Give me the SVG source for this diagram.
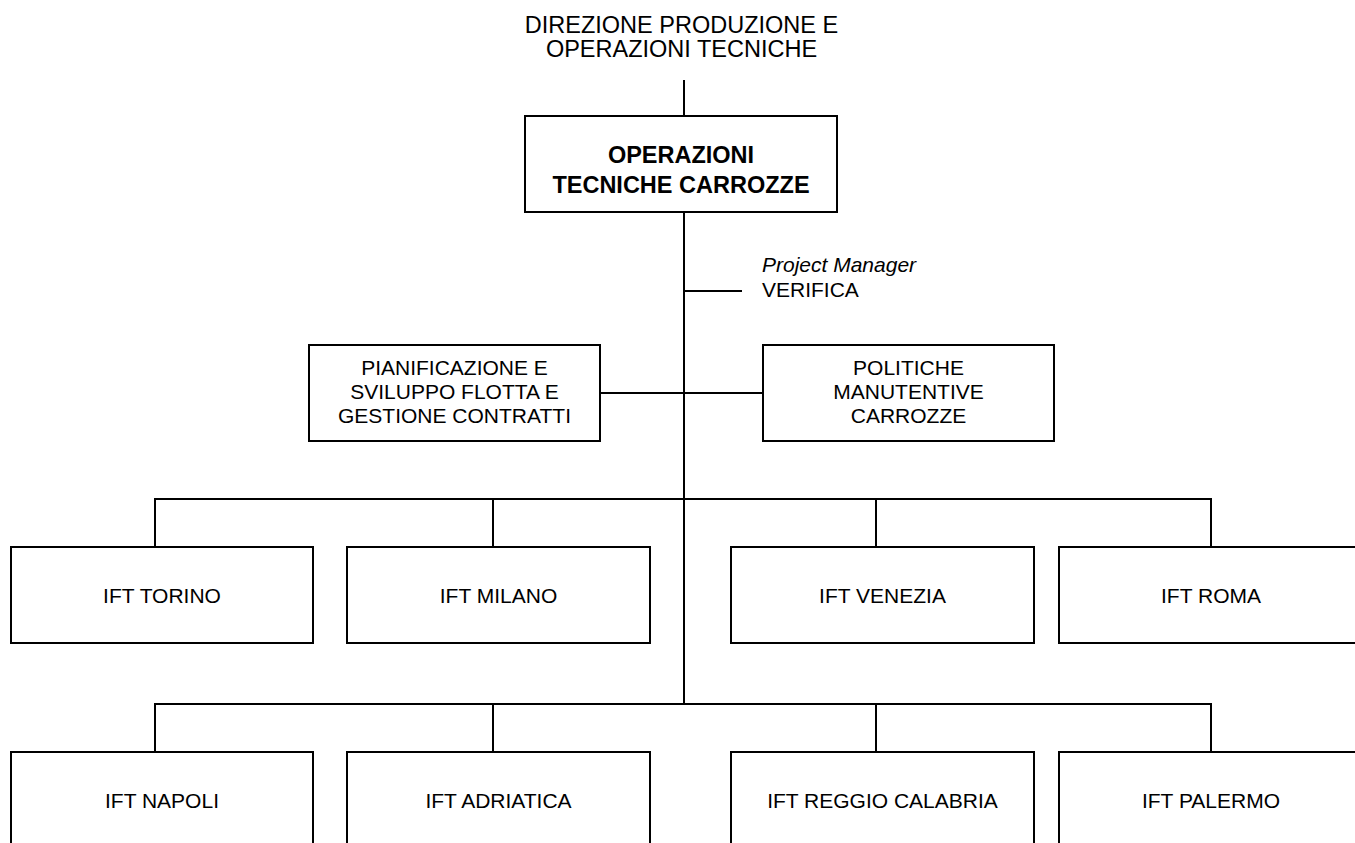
<svg xmlns="http://www.w3.org/2000/svg" width="1355" height="843" viewBox="0 0 1355 843">
<style>
  .box { fill: #ffffff; stroke: #000000; stroke-width: 2; }
  .ln { stroke: #000000; stroke-width: 2; fill: none; }
  .t { font-family: "Liberation Sans", Arial, sans-serif; font-size: 21px; fill: #000000; text-anchor: middle; }
  .top { font-family: "Liberation Sans", Arial, sans-serif; font-size: 23.5px; fill: #000000; text-anchor: middle; }
  .b { font-family: "Liberation Sans", Arial, sans-serif; font-size: 23.5px; font-weight: bold; fill: #000000; text-anchor: middle; }
  .pm { font-family: "Liberation Sans", Arial, sans-serif; font-size: 21px; fill: #000000; }
</style>
<rect width="1355" height="843" fill="#ffffff"/>
<g id="connectors">
  <line class="ln" x1="684" y1="80" x2="684" y2="116"/>
  <line class="ln" x1="684" y1="212" x2="684" y2="704"/>
  <line class="ln" x1="684" y1="291" x2="742" y2="291"/>
  <line class="ln" x1="600" y1="393" x2="763" y2="393"/>
  <polyline class="ln" points="155,547 155,499 1211,499 1211,547"/>
  <line class="ln" x1="493" y1="499" x2="493" y2="547"/>
  <line class="ln" x1="876" y1="499" x2="876" y2="547"/>
  <polyline class="ln" points="155,752 155,704 1211,704 1211,752"/>
  <line class="ln" x1="493" y1="704" x2="493" y2="752"/>
  <line class="ln" x1="876" y1="704" x2="876" y2="752"/>
</g>
<g id="direzione">
  <text class="top" x="681.5" y="33">DIREZIONE PRODUZIONE E</text>
  <text class="top" x="681.5" y="57">OPERAZIONI TECNICHE</text>
</g>
<g id="operazioni">
  <rect class="box" x="525" y="116" width="312" height="96"/>
  <text class="b" x="681" y="163">OPERAZIONI</text>
  <text class="b" x="681" y="193">TECNICHE CARROZZE</text>
</g>
<g id="project-manager">
  <text class="pm" x="762" y="272" font-style="italic">Project Manager</text>
  <text class="pm" x="762" y="297">VERIFICA</text>
</g>
<g id="pianificazione">
  <rect class="box" x="309" y="345" width="291" height="96"/>
  <text class="t" x="454.5" y="375">PIANIFICAZIONE E</text>
  <text class="t" x="454.5" y="399">SVILUPPO FLOTTA E</text>
  <text class="t" x="454.5" y="423">GESTIONE CONTRATTI</text>
</g>
<g id="politiche">
  <rect class="box" x="763" y="345" width="291" height="96"/>
  <text class="t" x="908.5" y="375">POLITICHE</text>
  <text class="t" x="908.5" y="399">MANUTENTIVE</text>
  <text class="t" x="908.5" y="423">CARROZZE</text>
</g>
<g id="ift-torino">
  <rect class="box" x="11" y="547" width="302" height="96"/>
  <text class="t" x="162" y="603">IFT TORINO</text>
</g>
<g id="ift-milano">
  <rect class="box" x="347" y="547" width="303" height="96"/>
  <text class="t" x="498.5" y="603">IFT MILANO</text>
</g>
<g id="ift-venezia">
  <rect class="box" x="731" y="547" width="303" height="96"/>
  <text class="t" x="882.5" y="603">IFT VENEZIA</text>
</g>
<g id="ift-roma">
  <rect class="box" x="1059" y="547" width="304" height="96"/>
  <text class="t" x="1211" y="603">IFT ROMA</text>
</g>
<g id="ift-napoli">
  <rect class="box" x="11" y="752" width="302" height="96"/>
  <text class="t" x="162" y="808">IFT NAPOLI</text>
</g>
<g id="ift-adriatica">
  <rect class="box" x="347" y="752" width="303" height="96"/>
  <text class="t" x="498.5" y="808">IFT ADRIATICA</text>
</g>
<g id="ift-reggio-calabria">
  <rect class="box" x="731" y="752" width="303" height="96"/>
  <text class="t" x="882.5" y="808">IFT REGGIO CALABRIA</text>
</g>
<g id="ift-palermo">
  <rect class="box" x="1059" y="752" width="304" height="96"/>
  <text class="t" x="1211" y="808">IFT PALERMO</text>
</g>
</svg>
